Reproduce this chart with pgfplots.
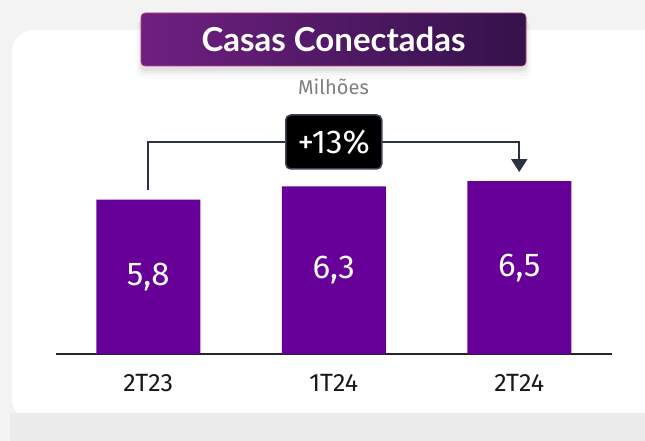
\documentclass[border=0pt]{standalone}
\usepackage{pgfplots}
\pgfplotsset{compat=1.18}
\usepackage{fontspec}
\setmainfont{Fira Sans}
\newfontfamily\titlefont{Lato}
\usetikzlibrary{arrows.meta}
\definecolor{barpurple}{HTML}{660099}
\definecolor{arrowc}{HTML}{2B3240}
\definecolor{bgc}{HTML}{F3F3F3}
\definecolor{bandc}{HTML}{ECECEC}
\definecolor{tleft}{HTML}{6F2081}
\definecolor{tright}{HTML}{34124A}
\definecolor{tborder}{HTML}{B8407E}
\definecolor{boxborder}{HTML}{3C4452}
\pgfplotstableread{
x y
0 5.8
1 6.3
2 6.5
}\casas
\begin{document}
\begin{tikzpicture}[x=1pt,y=1pt]
\useasboundingbox (0,0) rectangle (645,441);
\fill[bgc] (0,0) rectangle (645,441);
\fill[white,rounded corners=22pt] (12,20) rectangle (690,411);
\fill[bandc] (10,0) rectangle (645,28);
% title shadow
\foreach \i/\o in {10/0.015,7/0.025,4/0.035,2/0.045}{
  \fill[black,opacity=\o,rounded corners=6pt] (141-\i/2,375-\i-3) rectangle (526+\i/2,428-\i);
}
\shade[left color=tleft,right color=tright,rounded corners=4pt] (141,375) rectangle (526,428);
\draw[tborder,line width=0.6pt,rounded corners=4pt] (141,375) rectangle (526,428);
\node[white,font=\titlefont\bfseries\fontsize{33}{38}\selectfont] at (333.5,401.5) {Casas Conectadas};
\node[text=black!50,font=\fontsize{20}{24}\selectfont] at (333.5,354) {Milhões};
\begin{axis}[
  at={(55.5pt,87pt)}, anchor=south west,
  scale only axis, width=556.5pt, height=266pt,
  xmin=-0.5, xmax=2.5, ymin=0, ymax=10,
  axis y line=none, axis x line=bottom,
  axis line style={-, draw=black!85, line width=1.2pt},
  xtick={0,1,2}, xticklabels={2T23,1T24,2T24},
  major tick length=0pt,
  xticklabel style={anchor=center, yshift=-29pt, font=\fontsize{25}{30}\selectfont, text=black!90},
  clip=false,
]
\addplot[ybar, bar width=104pt, fill=barpurple, draw=none] table[x=x,y=y] {\casas};
\node[white,font=\fontsize{33}{38}\selectfont] at (axis cs:0,2.9) {5,8};
\node[white,font=\fontsize{33}{38}\selectfont] at (axis cs:1,3.15) {6,3};
\node[white,font=\fontsize{33}{38}\selectfont] at (axis cs:2,3.25) {6,5};
\draw[arrowc,line width=2pt,-{Triangle[width=16pt,length=13pt]}] (axis cs:0,6.17) -- (axis cs:0,7.97) -- (axis cs:2,7.97) -- (axis cs:2,6.84);
\node[fill=black,draw=boxborder,line width=1.5pt,rounded corners=5pt,minimum width=96pt,minimum height=54pt,text=white,font=\fontsize{33}{38}\selectfont] at (axis cs:1,7.97) {+13\%};
\end{axis}
\end{tikzpicture}
\end{document}
